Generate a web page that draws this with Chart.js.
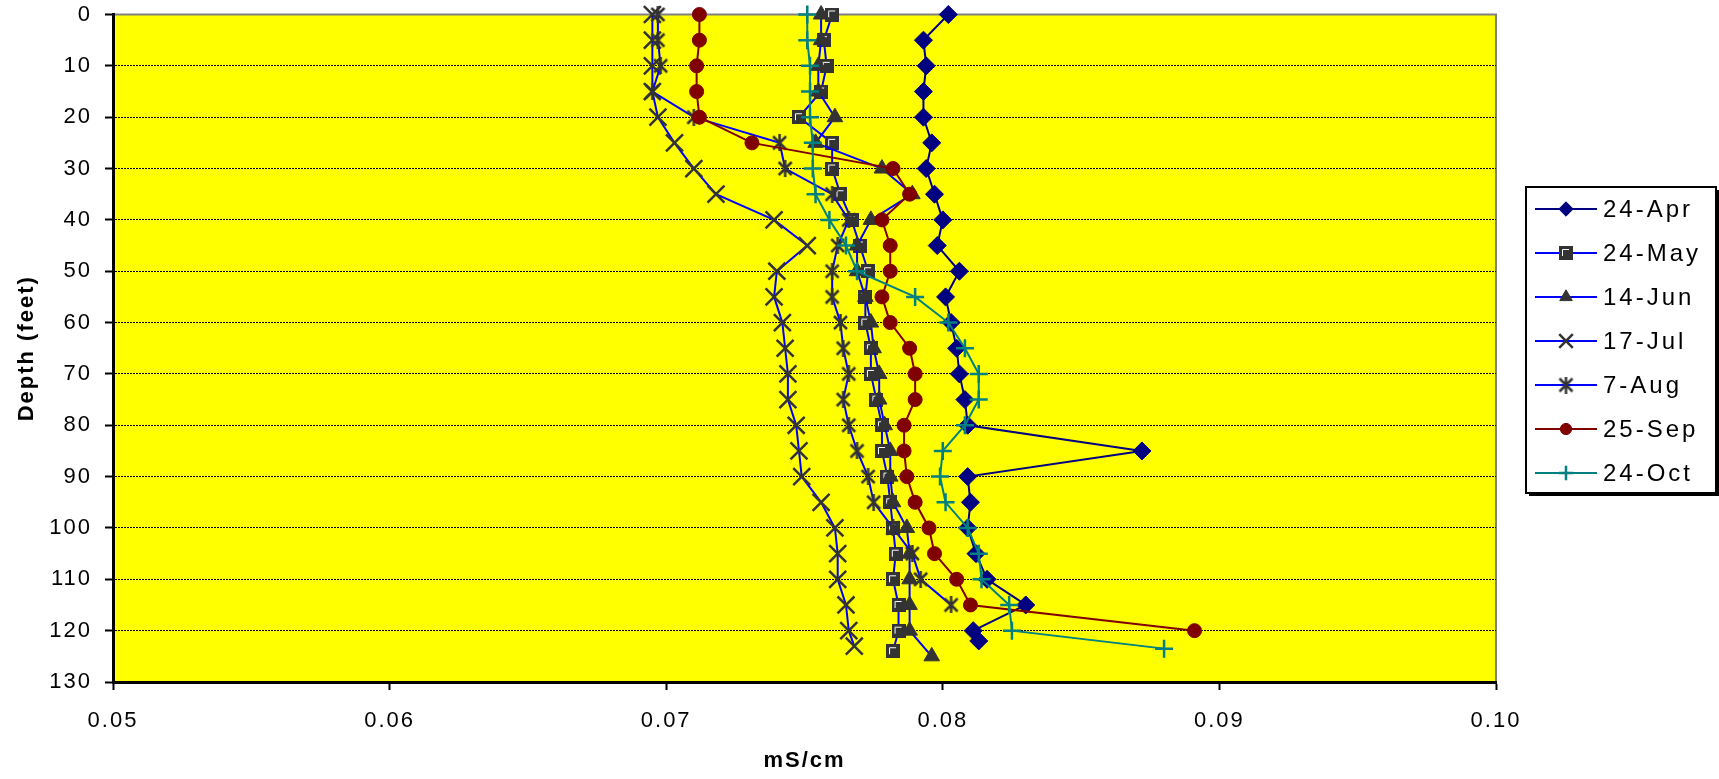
<!DOCTYPE html>
<html>
<head>
<meta charset="utf-8">
<title>Conductivity vs depth</title>
<script src="https://cdn.jsdelivr.net/npm/chart.js@4.4.1/dist/chart.umd.min.js"></script>
<style>
  html, body { margin: 0; padding: 0; background: #fff; }
  #wrap { position: relative; width: 1719px; height: 779px; }
</style>
</head>
<body>
<div id="wrap"><canvas id="profileChart"></canvas></div>
<script>
// depth (feet) of each reading, every 5 ft
const depths = [0, 5, 10, 15, 20, 25, 30, 35, 40, 45, 50, 55, 60, 65, 70, 75, 80, 85, 90, 95, 100, 105, 110, 115, 120];

// last reading of some profiles is a little deeper
const aprDepths = depths.concat([122]);
const mayDepths = depths.concat([124]);
const junDepths = depths.concat([125]);
const julDepths = depths.concat([123]);
const augDepths = depths.slice(0, 24); // stops at 115
const sepDepths = depths;
const octDepths = depths.concat([123.5]);

// conductivity, mS/cm
const apr24 = [0.0802, 0.0793, 0.0794, 0.0793, 0.0793, 0.0796, 0.0794, 0.0797, 0.0800, 0.0798,
               0.0806, 0.0801, 0.0803, 0.0805, 0.0806, 0.0808, 0.0809, 0.0872, 0.0809, 0.0810,
               0.0809, 0.0812, 0.0816, 0.0830, 0.0811, 0.0813];
const may24 = [0.0760, 0.0757, 0.0758, 0.0756, 0.0748, 0.0760, 0.0760, 0.0763, 0.0767, 0.0770,
               0.0773, 0.0772, 0.0772, 0.0774, 0.0774, 0.0776, 0.0778, 0.0778, 0.0780, 0.0781,
               0.0782, 0.0783, 0.0782, 0.0784, 0.0784, 0.0782];
const jun14 = [0.0756, 0.0756, 0.0755, 0.0755, 0.0761, 0.0754, 0.0778, 0.0789, 0.0774, 0.0769,
               0.0769, 0.0772, 0.0774, 0.0775, 0.0777, 0.0777, 0.0779, 0.0781, 0.0781, 0.0782,
               0.0787, 0.0788, 0.0788, 0.0788, 0.0788, 0.0796];
const jul17 = [0.0695, 0.0695, 0.0695, 0.0695, 0.0697, 0.0703, 0.0710, 0.0718, 0.0739, 0.0751,
               0.0740, 0.0739, 0.0742, 0.0743, 0.0744, 0.0744, 0.0747, 0.0748, 0.0749, 0.0756,
               0.0761, 0.0762, 0.0762, 0.0765, 0.0766, 0.0768];
const aug7  = [0.0697, 0.0697, 0.0698, 0.0695, 0.0710, 0.0741, 0.0743, 0.0760, 0.0766, 0.0762,
               0.0760, 0.0760, 0.0763, 0.0764, 0.0766, 0.0764, 0.0766, 0.0769, 0.0773, 0.0775,
               0.0782, 0.0789, 0.0792, 0.0803];
const sep25 = [0.0712, 0.0712, 0.0711, 0.0711, 0.0712, 0.0731, 0.0782, 0.0788, 0.0778, 0.0781,
               0.0781, 0.0778, 0.0781, 0.0788, 0.0790, 0.0790, 0.0786, 0.0786, 0.0787, 0.0790,
               0.0795, 0.0797, 0.0805, 0.0810, 0.0891];
const oct24 = [0.0751, 0.0751, 0.0752, 0.0752, 0.0752, 0.0753, 0.0753, 0.0754, 0.0759, 0.0765,
               0.0769, 0.0790, 0.0802, 0.0808, 0.0813, 0.0813, 0.0808, 0.0800, 0.0799, 0.0801,
               0.0809, 0.0813, 0.0814, 0.0824, 0.0825, 0.0880];

const xTicks = [0.05, 0.06, 0.07, 0.08, 0.09, 0.10];
const yTicks = [0, 10, 20, 30, 40, 50, 60, 70, 80, 90, 100, 110, 120, 130];

Chart.defaults.font.family = "'Liberation Sans', Arial, sans-serif";
Chart.defaults.color = '#000';

// excel style square marker (dark with a light inner corner)
function squareMarker(size) {
    const c = document.createElement('canvas');
    c.width = size; c.height = size;
    const g = c.getContext('2d');
    g.fillStyle = '#333333';
    g.fillRect(0, 0, size, size);
    g.strokeStyle = '#ffffff';
    g.lineWidth = 1;
    g.beginPath();
    g.moveTo(3.5, size - 4);
    g.lineTo(3.5, 3.5);
    g.lineTo(size - 4, 3.5);
    g.stroke();
    return c;
}

// asterisk = X plus a vertical bar
function asteriskMarker(size) {
    const c = document.createElement('canvas');
    c.width = size; c.height = size;
    const g = c.getContext('2d');
    g.strokeStyle = '#333333';
    g.lineWidth = 2.5;
    g.beginPath();
    g.moveTo(2, 2); g.lineTo(size - 2, size - 2);
    g.moveTo(size - 2, 2); g.lineTo(2, size - 2);
    g.moveTo(size / 2, 0); g.lineTo(size / 2, size);
    g.stroke();
    return c;
}

function series(label, depthList, values, style) {
    return Object.assign({
        label: label,
        data: values.map((v, i) => ({ x: v, y: depthList[i] })),
        showLine: true,
        borderWidth: 2,
        tension: 0,
        clip: false
    }, style);
}

const datasets = [
    series('24-Apr', aprDepths, apr24, { borderColor: '#000080', pointStyle: 'rectRot', pointRadius: 9,
        pointBackgroundColor: '#000080', pointBorderColor: '#000080', pointBorderWidth: 1 }),
    series('24-May', mayDepths, may24, { borderColor: '#0000ff', pointStyle: squareMarker(14), pointRadius: 7,
        pointBackgroundColor: '#333333', pointBorderColor: '#333333', pointBorderWidth: 1 }),
    series('14-Jun', junDepths, jun14, { borderColor: '#0000ff', pointStyle: 'triangle', pointRadius: 9,
        pointBackgroundColor: '#333333', pointBorderColor: '#333333', pointBorderWidth: 1 }),
    series('17-Jul', julDepths, jul17, { borderColor: '#0000ff', pointStyle: 'crossRot', pointRadius: 12,
        pointBackgroundColor: '#333333', pointBorderColor: '#333333', pointBorderWidth: 2.5 }),
    series('7-Aug', augDepths, aug7, { borderColor: '#0000ff', pointStyle: asteriskMarker(17), pointRadius: 8,
        pointBackgroundColor: '#333333', pointBorderColor: '#333333', pointBorderWidth: 2.5 }),
    series('25-Sep', sepDepths, sep25, { borderColor: '#800000', pointStyle: 'circle', pointRadius: 7,
        pointBackgroundColor: '#800000', pointBorderColor: '#800000', pointBorderWidth: 1 }),
    series('24-Oct', octDepths, oct24, { borderColor: '#008080', pointStyle: 'cross', pointRadius: 9,
        pointBackgroundColor: '#008080', pointBorderColor: '#008080', pointBorderWidth: 2.5 })
];
// later series are drawn on top, like the spreadsheet
datasets.forEach((ds, i) => { ds.order = datasets.length - i; });

// yellow plot area with grey top / right frame
const plotFrame = {
    id: 'plotFrame',
    beforeDraw(chart) {
        const { ctx, chartArea: a } = chart;
        ctx.save();
        ctx.fillStyle = '#ffff00';
        ctx.fillRect(a.left, a.top, a.width, a.height);
        ctx.strokeStyle = '#808080';
        ctx.lineWidth = 2;
        ctx.beginPath();
        ctx.moveTo(a.left, a.top);
        ctx.lineTo(a.right, a.top);
        ctx.lineTo(a.right, a.bottom);
        ctx.stroke();
        ctx.restore();
        ctx.letterSpacing = '2px'; // wide spreadsheet text
    }
};

// boxed legend with shadow, line + marker samples
const boxLegend = {
    id: 'boxLegend',
    afterDraw(chart) {
        const ctx = chart.ctx;
        const area = chart.chartArea;
        const left = area.right + 30, top = 187, w = 190, h = 306;
        ctx.save();
        ctx.fillStyle = '#000';
        ctx.fillRect(left + 3, top + 3, w, h);
        ctx.fillStyle = '#fff';
        ctx.fillRect(left, top, w, h);
        ctx.lineWidth = 2;
        ctx.strokeStyle = '#000';
        ctx.strokeRect(left, top, w, h);

        chart.data.datasets.forEach((ds, i) => {
            const y = top + 22 + i * 44;
            ctx.strokeStyle = ds.borderColor;
            ctx.lineWidth = 2;
            ctx.beginPath();
            ctx.moveTo(left + 9, y);
            ctx.lineTo(left + 71, y);
            ctx.stroke();

            ctx.fillStyle = ds.pointBackgroundColor;
            ctx.strokeStyle = ds.pointBorderColor;
            ctx.lineWidth = ds.pointBorderWidth;
            Chart.helpers.drawPoint(ctx, {
                pointStyle: ds.pointStyle,
                radius: ds.pointRadius * 0.8,
                rotation: 0,
                borderWidth: ds.pointBorderWidth
            }, left + 40, y);

            ctx.fillStyle = '#000';
            ctx.font = "24px 'Liberation Sans', Arial, sans-serif";
            ctx.letterSpacing = '3px';
            ctx.textAlign = 'left';
            ctx.textBaseline = 'middle';
            ctx.fillText(ds.label, left + 77, y + 1);
        });
        ctx.restore();
    }
};

new Chart(document.getElementById('profileChart'), {
    type: 'scatter',
    data: { datasets: datasets },
    plugins: [plotFrame, boxLegend],
    options: {
        responsive: true,
        maintainAspectRatio: false,
        animation: false,
        layout: { padding: { left: 0, right: 223, top: 11, bottom: 0 } },
        plugins: {
            legend: { display: false },
            tooltip: { enabled: false }
        },
        scales: {
            x: {
                type: 'linear',
                min: xTicks[0],
                max: xTicks[xTicks.length - 1],
                afterBuildTicks(s) { s.ticks = xTicks.map(v => ({ value: v })); },
                ticks: { padding: 18, font: { size: 22 }, color: '#000', callback: v => v.toFixed(2) },
                grid: { drawOnChartArea: false, drawTicks: true, tickLength: 8, tickColor: '#000', tickWidth: 2 },
                border: { color: '#000', width: 3 },
                title: { display: true, text: 'mS/cm', color: '#000',
                         font: { size: 22, weight: 'bold' }, padding: { top: 0, bottom: 5 } },
                afterFit(s) { s.height = 97; s.paddingLeft = 0; s.paddingRight = 0; }
            },
            y: {
                type: 'linear',
                reverse: true,
                min: yTicks[0],
                max: yTicks[yTicks.length - 1],
                afterBuildTicks(s) { s.ticks = yTicks.map(v => ({ value: v })); },
                ticks: { padding: 13, font: { size: 22 }, color: '#000' },
                grid: {
                    color: c => (c.tick && c.tick.value > 0 && c.tick.value < 130) ? '#000' : 'rgba(0,0,0,0)',
                    lineWidth: 1,
                    tickLength: 8,
                    tickColor: '#000',
                    tickWidth: 2
                },
                border: { color: '#000', width: 3, dash: [2, 1] },
                title: { display: true, text: 'Depth (feet)', color: '#000',
                         font: { size: 22, weight: 'bold' }, padding: { top: 14, bottom: 0 } },
                afterFit(s) { s.width = 113; s.paddingTop = 0; s.paddingBottom = 0; }
            }
        }
    }
});
</script>
</body>
</html>
